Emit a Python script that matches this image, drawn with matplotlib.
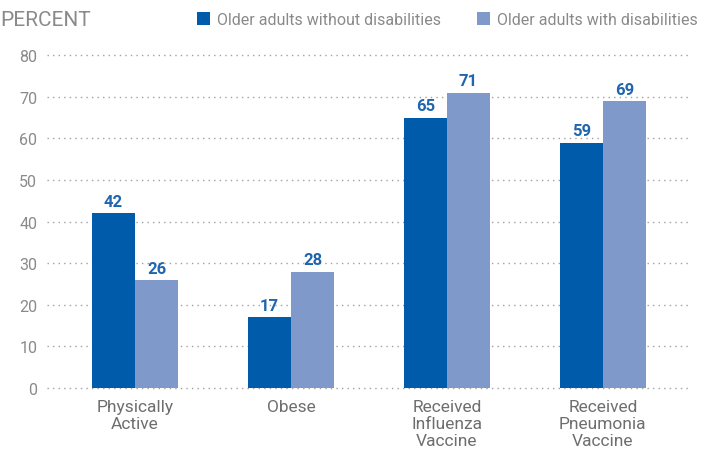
import numpy as np
import matplotlib.pyplot as plt

categories = ["Physically\nActive", "Obese", "Received\nInfluenza\nVaccine", "Received\nPneumonia\nVaccine"]
without_dis = [42, 17, 65, 59]
with_dis = [26, 28, 71, 69]
series_names = ["Older adults without disabilities", "Older adults with disabilities"]
yticks = [0, 10, 20, 30, 40, 50, 60, 70, 80]

dark = "#005BAA"
light = "#7F99CB"
label_blue = "#1F66AE"
gray = "#8A8A8A"

plt.rcParams["font.family"] = ["Roboto", "DejaVu Sans"]

fig = plt.figure(figsize=(7.05, 4.6), dpi=100)
ax = fig.add_axes([0.0667, 0.1543, 0.9123, 0.7237])

x = np.arange(len(categories))
w = 0.276
b1 = ax.bar(x - w / 2, without_dis, w, color=dark, zorder=3, label=series_names[0])
b2 = ax.bar(x + w / 2, with_dis, w, color=light, zorder=3, label=series_names[1])

for bars, vals in ((b1, without_dis), (b2, with_dis)):
    for r, v in zip(bars, vals):
        ax.text(r.get_x() + r.get_width() / 2, v + 1.0, str(v), ha="center", va="bottom",
                fontsize=12, fontweight="bold", color=label_blue)

ax.set_xlim(-0.564, 3.56)
ax.set_ylim(0, 80)
ax.set_yticks(yticks)
ax.set_yticklabels([str(t) for t in yticks], color=gray, fontsize=11.5)
ax.set_xticks(x)
ax.set_xticklabels(categories, color="#6E6E6E", fontsize=12.5, linespacing=1.15)
ax.tick_params(axis="both", length=0)
ax.tick_params(axis="y", pad=7)
ax.tick_params(axis="x", pad=8)
for y in yticks:
    ax.axhline(y, color="#A0A0A0", linestyle=(0, (1, 3)), linewidth=1, zorder=1, clip_on=False)
for s in ax.spines.values():
    s.set_visible(False)

fig.text(0.0, 0.955, "PERCENT", fontsize=15, color=gray, va="center", ha="left")
fig.legend(handles=[b1, b2], loc="center left", bbox_to_anchor=(0.279, 0.955), ncol=2,
           frameon=False, fontsize=11.5, labelcolor=gray, handlelength=0.85, handleheight=0.85,
           handletextpad=0.45, columnspacing=2.2, borderaxespad=0, borderpad=0)

fig.savefig("out.png", dpi=100)
